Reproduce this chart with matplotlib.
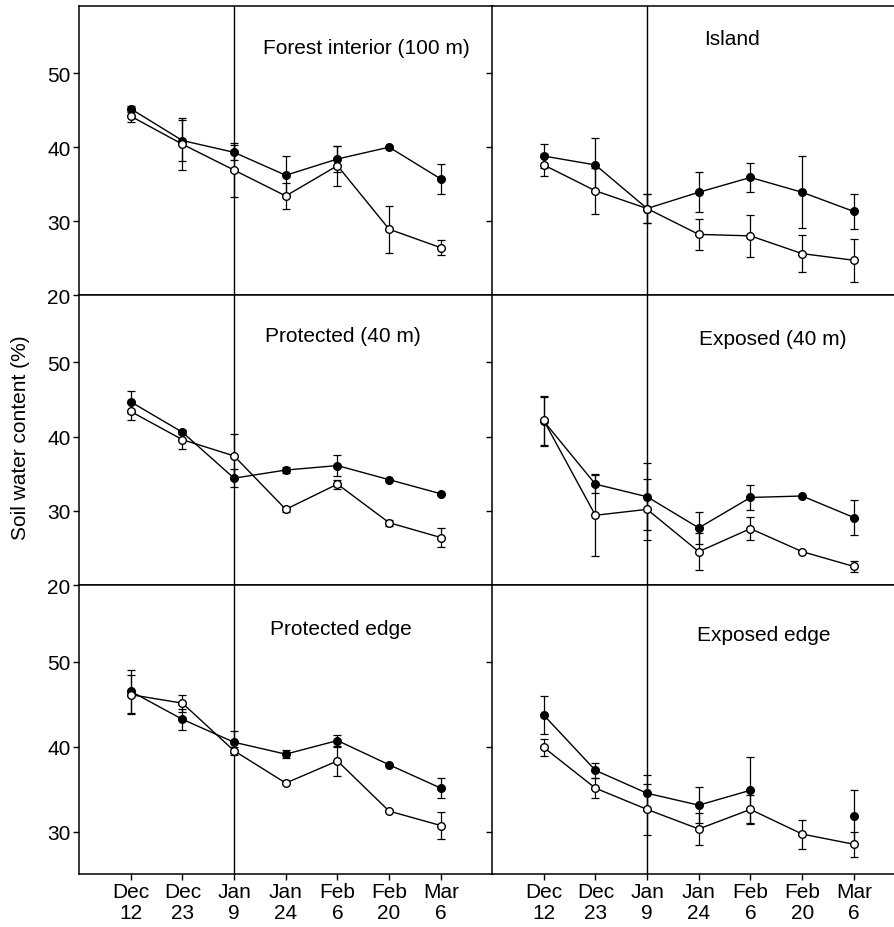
import numpy as np
import matplotlib.pyplot as plt

plt.rcParams["font.family"] = ["Liberation Sans", "DejaVu Sans"]

dates = ["Dec\n12", "Dec\n23", "Jan\n9", "Jan\n24", "Feb\n6", "Feb\n20", "Mar\n6"]

titles = ["Forest interior (100 m)", "Island",
          "Protected (40 m)", "Exposed (40 m)",
          "Protected edge", "Exposed edge"]

# filled = closed circles, open = open circles
forest_filled = [45.2, 40.9, 39.3, 36.2, 38.4, 40.0, 35.7]
forest_filled_err = [0.4, 2.8, 1.0, 2.6, 1.8, 0.0, 2.0]
forest_open = [44.2, 40.4, 36.9, 33.4, 37.5, 28.9, 26.4]
forest_open_err = [0.8, 3.5, 3.6, 1.8, 2.7, 3.2, 1.0]

island_filled = [38.8, 37.6, 31.7, 33.9, 35.9, 33.9, 31.3]
island_filled_err = [1.6, 3.7, 2.0, 2.7, 1.9, 4.9, 2.4]
island_open = [37.6, 34.1, 31.7, 28.2, 28.0, 25.6, 24.7]
island_open_err = [1.5, 3.1, 2.0, 2.1, 2.8, 2.5, 2.9]

prot40_filled = [44.7, 40.6, 34.4, 35.5, 36.1, 34.2, 32.3]
prot40_filled_err = [1.5, 0.3, 1.2, 0.4, 1.4, 0.0, 0.0]
prot40_open = [43.4, 39.6, 37.4, 30.2, 33.6, 28.4, 26.4]
prot40_open_err = [1.1, 1.2, 2.9, 0.3, 0.6, 0.4, 1.3]

exp40_filled = [42.1, 33.6, 31.9, 27.7, 31.8, 32.0, 29.1]
exp40_filled_err = [3.3, 1.2, 4.5, 2.2, 1.7, 0.0, 2.4]
exp40_open = [42.2, 29.4, 30.2, 24.5, 27.6, 24.5, 22.5]
exp40_open_err = [3.3, 5.5, 4.1, 2.5, 1.6, 0.0, 0.8]

protedge_filled = [46.5, 43.2, 40.5, 39.1, 40.7, 37.85, 35.1]
protedge_filled_err = [2.5, 1.2, 1.3, 0.5, 0.7, 0.0, 1.2]
protedge_open = [46.1, 45.1, 39.5, 35.7, 38.3, 32.4, 30.7]
protedge_open_err = [2.3, 1.0, 0.5, 0.0, 1.8, 0.0, 1.6]

expedge_filled = [43.7, 37.2, 34.5, 33.1, 34.85, np.nan, 31.8]
expedge_filled_err = [2.2, 0.9, 2.1, 2.1, 3.9, 0.0, 3.1]
expedge_open = [39.9, 35.1, 32.6, 30.3, 32.6, 29.7, 28.5]
expedge_open_err = [1.0, 1.2, 3.0, 1.9, 1.7, 1.7, 1.5]

panels = [
    (forest_filled, forest_filled_err, forest_open, forest_open_err),
    (island_filled, island_filled_err, island_open, island_open_err),
    (prot40_filled, prot40_filled_err, prot40_open, prot40_open_err),
    (exp40_filled, exp40_filled_err, exp40_open, exp40_open_err),
    (protedge_filled, protedge_filled_err, protedge_open, protedge_open_err),
    (expedge_filled, expedge_filled_err, expedge_open, expedge_open_err),
]

W, H = 894, 928
fig = plt.figure(figsize=(W / 100, H / 100), dpi=100)

col_x = [79, 492]
col_w = 413.5
row_top = [7, 296, 586]
row_h = [289, 290, 289]
title_pos = [(0.446, 0.858), (0.513, 0.886),
             (0.450, 0.859), (0.500, 0.849),
             (0.462, 0.848), (0.496, 0.830)]

x = np.arange(len(dates))

for i, (f, fe, o, oe) in enumerate(panels):
    r, c = divmod(i, 2)
    ax = fig.add_axes([col_x[c] / W, 1 - (row_top[r] + row_h[r]) / H,
                       col_w / W, row_h[r] / H])
    ax.axvline(2, color="black", lw=1, zorder=1)

    ax.errorbar(x, f, yerr=fe, fmt="none", ecolor="black", elinewidth=0.9,
                capsize=3, capthick=0.9, zorder=2)
    ax.errorbar(x, o, yerr=oe, fmt="none", ecolor="black", elinewidth=0.9,
                capsize=3, capthick=0.9, zorder=2)
    ax.plot(x, f, "-o", color="black", lw=1, ms=5.5, mfc="black",
            mec="black", zorder=3)
    ax.plot(x, o, "-o", color="black", lw=1, ms=5.5, mfc="white",
            mec="black", mew=1, zorder=4)

    ax.set_xlim(-1, 7)
    if r == 2:
        ax.set_ylim(25, 59)
        ax.set_yticks([30, 40, 50])
        ax.set_xticks(x)
        ax.set_xticklabels(dates, fontsize=15, linespacing=1.12)
    else:
        ax.set_ylim(20, 59.1)
        ax.set_yticks([20, 30, 40, 50])
        ax.set_xticks(x)
        ax.set_xticklabels([])

    if c == 0:
        ax.tick_params(axis="y", labelsize=15)
    else:
        ax.set_yticklabels([])
        if r == 2:
            ax.tick_params(axis="y", length=0)
        ax.spines["right"].set_visible(False)

    ax.tick_params(direction="out", length=4, width=1, pad=2)
    for s in ax.spines.values():
        s.set_linewidth(1.1)

    ax.text(title_pos[i][0], title_pos[i][1], titles[i], transform=ax.transAxes,
            fontsize=15, ha="left", va="center")

fig.text(0.023, 1 - 438 / H, "Soil water content (%)", rotation=90,
         fontsize=15, ha="center", va="center")

fig.savefig("out.png", dpi=100)
